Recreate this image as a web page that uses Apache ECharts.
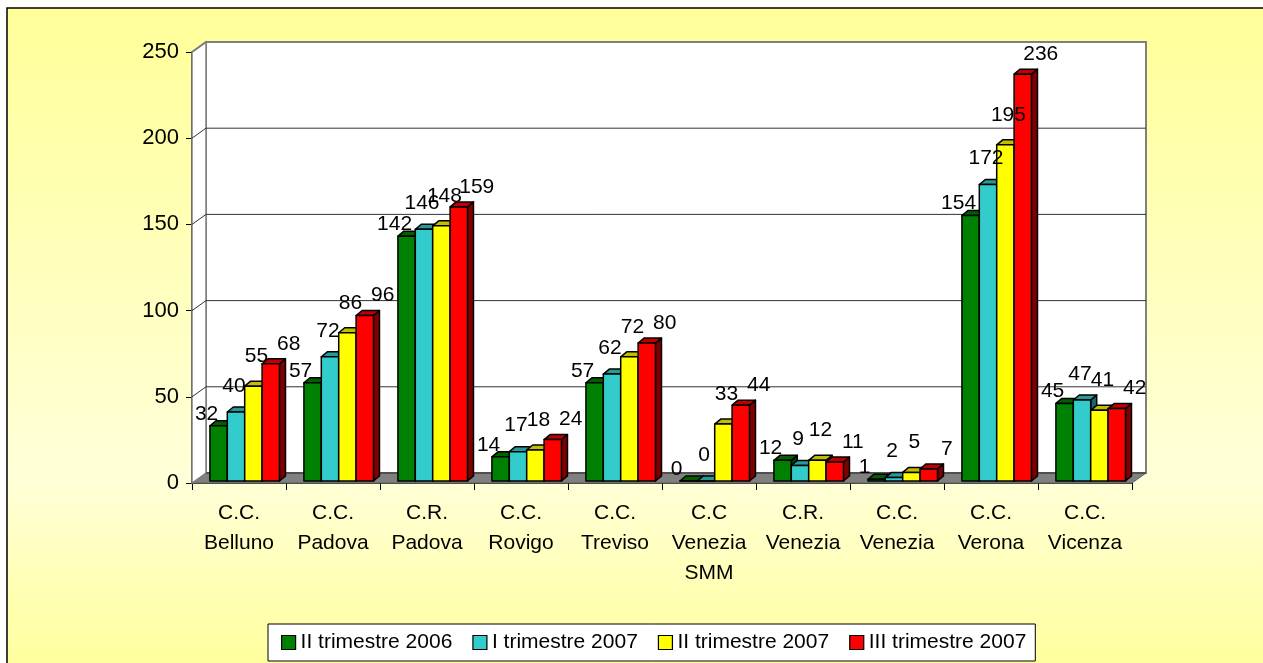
<!DOCTYPE html>
<html>
<head>
<meta charset="utf-8">
<script src="https://cdn.jsdelivr.net/npm/echarts@6/dist/echarts.min.js"></script>
<style>
html,body{margin:0;padding:0;background:#fff;}
#chart{width:1263px;height:663px;}
</style>
</head>
<body>
<div id="chart"></div>
<script>
var categories = ["C.C.\nBelluno","C.C.\nPadova","C.R.\nPadova","C.C.\nRovigo","C.C.\nTreviso","C.C\nVenezia\nSMM","C.R.\nVenezia","C.C.\nVenezia","C.C.\nVerona","C.C.\nVicenza"];
var seriesNames = ["II trimestre 2006","I trimestre 2007","II trimestre 2007","III trimestre 2007"];
var trim2_2006 = [32, 57, 142, 14, 57, 0, 12, 1, 154, 45];
var trim1_2007 = [40, 72, 146, 17, 62, 0, 9, 2, 172, 47];
var trim2_2007 = [55, 86, 148, 18, 72, 33, 12, 5, 195, 41];
var trim3_2007 = [68, 96, 159, 24, 80, 44, 11, 7, 236, 42];
var yTicks = {min: 0, max: 250, interval: 50};

var allValues = [trim2_2006, trim1_2007, trim2_2007, trim3_2007];
var frontColors = ['#008000', '#33CCCC', '#FFFF00', '#FF0000'];
var topColors = ['#006000', '#269999', '#BFBF00', '#C00000'];
var sideColors = ['#004000', '#1A6666', '#808000', '#800000'];
var labelOffsets = [[-12, -12], [-2, -26], [3, -30], [18, -20]];
var FONT = "'Liberation Sans', Arial, sans-serif";

var DX = 14, DY = -10;   // wall depth
var BDX = 6, BDY = -5;   // bar depth

var chart = echarts.init(document.getElementById('chart'), null, {renderer: 'canvas'});

function wallsRender(params, api) {
  var cs = params.coordSys;
  var gx = cs.x, gy = cs.y, W = cs.width, H = cs.height;
  var y0 = api.coord([0, 0])[1];
  var children = [];
  children.push({type: 'polygon', shape: {points: [[gx, y0], [gx + W, y0], [gx + W + DX, y0 + DY], [gx + DX, y0 + DY]]},
    style: {fill: '#808080', stroke: '#606060', lineWidth: 1}});
  children.push({type: 'rect', shape: {x: gx + DX, y: gy + DY, width: W, height: H},
    style: {fill: '#ffffff', stroke: '#808080', lineWidth: 2}});
  children.push({type: 'polygon', shape: {points: [[gx, gy], [gx + DX, gy + DY], [gx + DX, y0 + DY], [gx, y0]]},
    style: {fill: '#ffffff', stroke: '#808080', lineWidth: 1.5}});
  for (var v = yTicks.min + yTicks.interval; v <= yTicks.max; v += yTicks.interval) {
    var yv = api.coord([0, v])[1];
    children.push({type: 'polyline', shape: {points: [[gx, yv], [gx + DX, yv + DY], [gx + DX + W, yv + DY]]},
      style: {fill: null, stroke: v === yTicks.max ? '#808080' : '#333333', lineWidth: v === yTicks.max ? 2 : 1}});
  }
  children.push({type: 'line', shape: {x1: gx + DX, y1: y0 + DY, x2: gx + DX + W, y2: y0 + DY},
    style: {stroke: '#404040', lineWidth: 1.5}});
  return {type: 'group', children: children, silent: true};
}

function makeBarRender(s) {
  return function (params, api) {
    var idx = api.value(0);
    var val = api.value(1);
    var c = api.coord([idx, val]);
    var b = api.coord([idx, 0]);
    var cw = api.size([1, 0])[0];
    var bw = cw * 0.185;
    var left = c[0] - cw / 2 + cw * 0.18 + s * bw + 1;
    var top = c[1] - 2;
    var base = b[1] - 2;
    var st = {stroke: '#000', lineWidth: 1.5, lineJoin: 'round'};
    var off = labelOffsets[s];
    return {
      type: 'group',
      children: [
        {type: 'polygon', shape: {points: [[left + bw, top], [left + bw + BDX, top + BDY], [left + bw + BDX, base + BDY], [left + bw, base]]},
          style: Object.assign({fill: sideColors[s]}, st)},
        {type: 'polygon', shape: {points: [[left, top], [left + bw, top], [left + bw + BDX, top + BDY], [left + BDX, top + BDY]]},
          style: Object.assign({fill: topColors[s]}, st)},
        {type: 'rect', shape: {x: left, y: top, width: bw, height: Math.max(base - top, 0)},
          style: Object.assign({fill: frontColors[s]}, st)},
        {type: 'text', z2: 100, style: {text: String(val), x: left + bw / 2 + off[0], y: top + off[1],
          textAlign: 'center', textVerticalAlign: 'middle', fontSize: 21, fontFamily: FONT, fill: '#000'}}
      ]
    };
  };
}

var series = [{
  type: 'custom', name: '_walls', z: 1, silent: true,
  renderItem: wallsRender, data: [[0, 0]], encode: {x: 0, y: 1}, clip: false
}];
for (var s = 0; s < 4; s++) {
  series.push({
    type: 'custom', name: seriesNames[s], z: 2, clip: false,
    itemStyle: {color: frontColors[s], borderColor: '#000', borderWidth: 1},
    renderItem: makeBarRender(s),
    encode: {x: 0, y: 1},
    data: allValues[s].map(function (v, i) { return [i, v]; })
  });
}

var option = {
  animation: false,
  backgroundColor: '#ffffff',
  graphic: [{
    type: 'rect', z: -10, silent: true,
    shape: {x: 7, y: 8, width: 1270, height: 670},
    style: {
      fill: new echarts.graphic.LinearGradient(0, 0, 0, 1, [
        {offset: 0, color: '#FFFF99'},
        {offset: 0.7, color: '#FFFFD8'},
        {offset: 1, color: '#FFFF99'}
      ]),
      stroke: '#000', lineWidth: 1.5
    }
  }],
  grid: {left: 192, right: 131, top: 52, bottom: 180, containLabel: false},
  legend: {
    data: seriesNames,
    left: 268, top: 624,
    width: 800,
    padding: [8, 9, 8, 13],
    itemGap: 20,
    itemWidth: 14, itemHeight: 14,
    icon: 'rect',
    backgroundColor: '#ffffff',
    borderColor: '#000', borderWidth: 1,
    itemStyle: {borderColor: '#000', borderWidth: 1.2},
    textStyle: {fontSize: 21, fontFamily: FONT, color: '#000'}
  },
  xAxis: {
    type: 'category', data: categories,
    axisLine: {show: true, lineStyle: {color: '#000', width: 1.5}},
    axisTick: {show: true, length: 7, lineStyle: {color: '#000'}},
    axisLabel: {fontSize: 21, lineHeight: 30, margin: 15, color: '#000', fontFamily: FONT, interval: 0},
    splitLine: {show: false}
  },
  yAxis: {
    type: 'value', min: yTicks.min, max: yTicks.max, interval: yTicks.interval,
    axisLine: {show: true, lineStyle: {color: '#000', width: 1.5}},
    axisTick: {show: true, length: 6, lineStyle: {color: '#000'}},
    axisLabel: {fontSize: 22, margin: 13, color: '#000', fontFamily: FONT},
    splitLine: {show: false}
  },
  series: series
};
chart.setOption(option);
</script>
</body>
</html>
